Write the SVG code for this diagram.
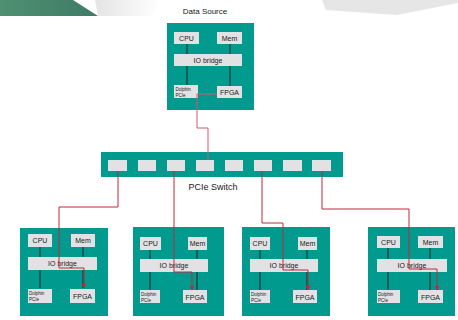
<svg xmlns="http://www.w3.org/2000/svg" width="458" height="320" viewBox="0 0 458 320">
<defs>
<linearGradient id="gg" x1="0" y1="0" x2="1" y2="0">
<stop offset="0" stop-color="#4f9070"/>
<stop offset="1" stop-color="#3f7a68"/>
</linearGradient>
<linearGradient id="gr" x1="0" y1="0" x2="1" y2="0">
<stop offset="0" stop-color="#e4e4e4"/>
<stop offset="1" stop-color="#ffffff"/>
</linearGradient>
<marker id="ah" viewBox="0 0 10 10" refX="9" refY="5" markerWidth="5" markerHeight="5" orient="auto" markerUnits="userSpaceOnUse">
<path d="M0,0 L10,5 L0,10 z" fill="#c0283a"/>
</marker>
<style>
.node{fill:#009a8e}
.bx{fill:#e2e2e5}
.t{font-family:"Liberation Sans",Arial,sans-serif;fill:#1a1a1a;text-anchor:middle}
.s{font-size:7px}
.xs{font-size:4.5px;text-anchor:start}
.lk{stroke:#1d4a48;stroke-width:1.5;fill:none}
.red{stroke:#c0283a;stroke-width:1;fill:none}
</style>
</defs>
<rect width="458" height="320" fill="#ffffff"/>
<polygon points="95,0 160,0 150,16 98,16" fill="url(#gr)"/>
<polygon points="0,0 73,0 98,16 0,16" fill="url(#gg)"/>
<polygon points="322,0 458,0 458,3 397,15 326,10" fill="#e6e6e6"/>
<text class="t" x="205" y="14" style="font-size:8px">Data Source</text>

<g id="source">
<rect class="node" x="167" y="23" width="87" height="87"/>
<line class="lk" x1="187" y1="44" x2="187" y2="86"/>
<line class="lk" x1="230" y1="44" x2="230" y2="86"/>
<rect class="bx" x="174" y="32" width="25" height="12"/>
<rect class="bx" x="217" y="32" width="25" height="12"/>
<rect class="bx" x="174" y="54" width="68" height="12"/>
<rect class="bx" x="174" y="85" width="24" height="13"/>
<rect class="bx" x="217" y="86" width="25" height="12"/>
<text class="t s" x="186.5" y="40.5">CPU</text>
<text class="t s" x="229.5" y="40.5">Mem</text>
<text class="t s" x="208" y="62.5">IO bridge</text>
<text class="t xs" x="175.5" y="90.5">Dolphin</text>
<text class="t xs" x="175.5" y="96.5">PCIe</text>
<text class="t s" x="229.5" y="94.5">FPGA</text>
</g>

<g id="switch">
<rect class="node" x="101" y="152" width="242" height="25"/>
<rect class="bx" x="108" y="160" width="19" height="11"/>
<rect class="bx" x="138" y="160" width="18" height="11"/>
<rect class="bx" x="167" y="160" width="18" height="11"/>
<rect class="bx" x="196" y="160" width="18" height="11"/>
<rect class="bx" x="225" y="160" width="18" height="11"/>
<rect class="bx" x="254" y="160" width="18" height="11"/>
<rect class="bx" x="283" y="160" width="19" height="11"/>
<rect class="bx" x="312" y="160" width="19" height="11"/>
<text class="t" x="213" y="190" style="font-size:9px">PCIe Switch</text>
</g>

<g id="host1">
<rect class="node" x="20" y="228" width="88" height="88"/>
<line class="lk" x1="40" y1="247" x2="40" y2="288"/>
<line class="lk" x1="83" y1="247" x2="83" y2="288"/>
<rect class="bx" x="28" y="234" width="24" height="13"/>
<rect class="bx" x="71" y="234" width="24" height="13"/>
<rect class="bx" x="28" y="257" width="69" height="13"/>
<rect class="bx" x="28" y="289" width="24" height="14"/>
<rect class="bx" x="70" y="289" width="25" height="14"/>
<text class="t s" x="40" y="243">CPU</text>
<text class="t s" x="83" y="243">Mem</text>
<text class="t s" x="62.5" y="266">IO bridge</text>
<text class="t xs" x="29" y="295">Dolphin</text>
<text class="t xs" x="29" y="301">PCIe</text>
<text class="t s" x="82.5" y="298.5">FPGA</text>
</g>

<g id="host2">
<rect class="node" x="133" y="227" width="91" height="89"/>
<line class="lk" x1="150" y1="250" x2="150" y2="290"/>
<line class="lk" x1="197" y1="250" x2="197" y2="290"/>
<rect class="bx" x="140" y="237" width="21" height="13"/>
<rect class="bx" x="188" y="237" width="19" height="13"/>
<rect class="bx" x="140" y="259" width="68" height="13"/>
<rect class="bx" x="140" y="290" width="20" height="13"/>
<rect class="bx" x="183" y="290" width="24" height="13"/>
<text class="t s" x="150.5" y="246">CPU</text>
<text class="t s" x="197.5" y="246">Mem</text>
<text class="t s" x="174" y="268">IO bridge</text>
<text class="t xs" x="141" y="296">Dolphin</text>
<text class="t xs" x="141" y="302">PCIe</text>
<text class="t s" x="195" y="299.5">FPGA</text>
</g>

<g id="host3">
<rect class="node" x="242" y="227" width="88" height="89"/>
<line class="lk" x1="260" y1="250" x2="260" y2="290"/>
<line class="lk" x1="307" y1="250" x2="307" y2="290"/>
<rect class="bx" x="250" y="237" width="20" height="13"/>
<rect class="bx" x="298" y="237" width="19" height="13"/>
<rect class="bx" x="250" y="259" width="68" height="13"/>
<rect class="bx" x="250" y="290" width="20" height="13"/>
<rect class="bx" x="293" y="290" width="24" height="13"/>
<text class="t s" x="260" y="246">CPU</text>
<text class="t s" x="307.5" y="246">Mem</text>
<text class="t s" x="284" y="268">IO bridge</text>
<text class="t xs" x="251" y="296">Dolphin</text>
<text class="t xs" x="251" y="302">PCIe</text>
<text class="t s" x="305" y="299.5">FPGA</text>
</g>

<g id="host4">
<rect class="node" x="368" y="227" width="87" height="89"/>
<line class="lk" x1="388" y1="248" x2="388" y2="290"/>
<line class="lk" x1="430" y1="248" x2="430" y2="290"/>
<rect class="bx" x="377" y="236" width="23" height="12"/>
<rect class="bx" x="418" y="236" width="25" height="12"/>
<rect class="bx" x="377" y="259" width="70" height="13"/>
<rect class="bx" x="377" y="290" width="23" height="13"/>
<rect class="bx" x="418" y="290" width="25" height="13"/>
<text class="t s" x="388.5" y="245">CPU</text>
<text class="t s" x="430.5" y="245">Mem</text>
<text class="t s" x="412" y="268">IO bridge</text>
<text class="t xs" x="378" y="296">Dolphin</text>
<text class="t xs" x="378" y="302">PCIe</text>
<text class="t s" x="430.5" y="299.5">FPGA</text>
</g>

<g id="connectors">
<path class="red" d="M217,94 H197 V128 H208 V160" style="stroke:#d4596a"/>
<path class="red" d="M118,171 V207 H59 V268 H84 V288" marker-end="url(#ah)"/>
<path class="red" d="M174,171 V272 H192 V290" marker-end="url(#ah)"/>
<path class="red" d="M262,171 V223 H283 V270 H308 V290" marker-end="url(#ah)"/>
<path class="red" d="M322,171 V209 H409 V269 H437 V290" marker-end="url(#ah)"/>
</g>
</svg>
